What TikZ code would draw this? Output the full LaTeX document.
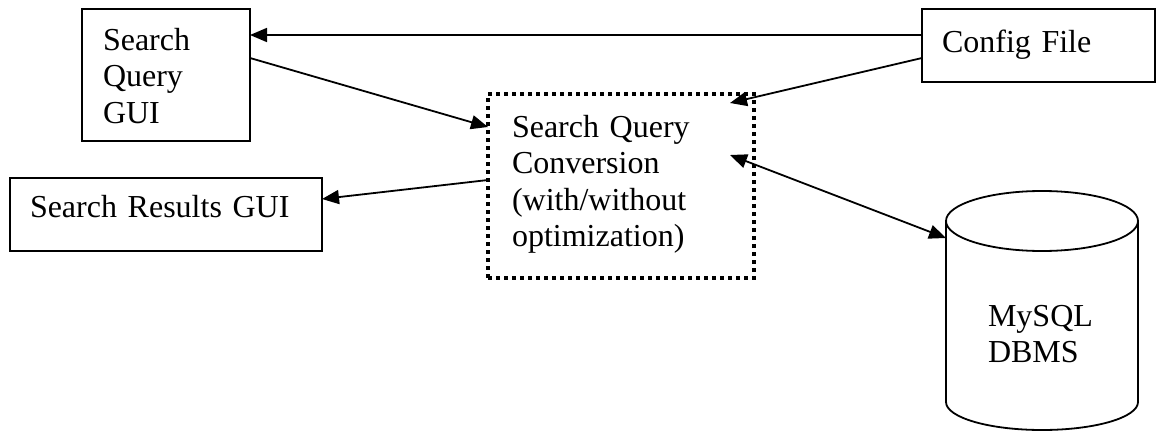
\documentclass[tikz,border=0pt]{standalone}
\usepackage{fontspec}
\setmainfont{Liberation Serif}
\usetikzlibrary{arrows.meta}
\begin{document}
\begin{tikzpicture}[x=1pt,y=-1pt,
  box/.style={draw, line width=1.8pt, inner sep=0pt, outer sep=0pt, rectangle},
  dotbox/.style={draw, line width=4pt, dash pattern=on 4pt off 4pt, inner sep=0pt, outer sep=0pt, rectangle},
  txt/.style={inner sep=0pt, outer sep=0pt, anchor=base west, align=left, font=\fontsize{32}{36.5}\selectfont},
  conn/.style={line width=1.8pt, -{Triangle[length=17pt,width=14pt]}},
  dconn/.style={line width=1.8pt, {Triangle[length=17pt,width=14pt]}-{Triangle[length=17pt,width=14pt]}},
  cyl/.style={line width=1.8pt}
]
\useasboundingbox (0,0) rectangle (1157,431);
% boxes
\node[box, minimum width=168pt, minimum height=132pt] (sqg) at (166,75) {};
\node[box, minimum width=233pt, minimum height=73pt] (cf) at (1038.5,45.5) {};
\node[box, minimum width=312pt, minimum height=73pt] (srg) at (166,214.5) {};
\node[dotbox, minimum width=266pt, minimum height=184pt] (sqc) at (621,186) {};
\node[inner sep=0pt, outer sep=0pt, minimum width=192pt, minimum height=239pt] (db) at (1042,310.5) {};
% cylinder
\draw[cyl] (1042,221) ellipse [x radius=96pt, y radius=30pt];
\draw[cyl] (946,221) -- (946,402) arc[start angle=180, end angle=360, x radius=96pt, y radius=28pt] -- (1138,221);
% texts
\node[txt, text width=130pt] (sqgt) at (103,50) {Search\\Query\\GUI};
\node[txt, text width=200pt] (cft) at (942,52) {Config File};
\node[txt, text width=280pt] (srgt) at (30,217) {Search Results GUI};
\node[txt, text width=230pt] (sqct) at (512,137) {Search Query\\Conversion\\(with/without\\optimization)};
\node[txt, text width=140pt] (dbt) at (988,326) {MySQL\\DBMS};
% connectors
\draw[conn] ([yshift=10.5pt]cf.west) -- ([yshift=40pt]sqg.east);
\draw[conn] ([yshift=17pt]sqg.east) -- ([yshift=59pt]sqc.west);
\coordinate (sqcin1) at ([xshift=-24pt,yshift=-9pt]sqc.north east);
\draw[conn] ([yshift=-12.5pt]cf.west) -- (sqcin1);
\draw[conn] ([yshift=6pt]sqc.west) -- ([yshift=15.5pt]srg.east);
\coordinate (sqcin2) at ([xshift=-24pt,yshift=31pt]sqc.east);
\draw[dconn] (sqcin2) -- ([yshift=72.5pt]db.west);
\end{tikzpicture}
\end{document}
